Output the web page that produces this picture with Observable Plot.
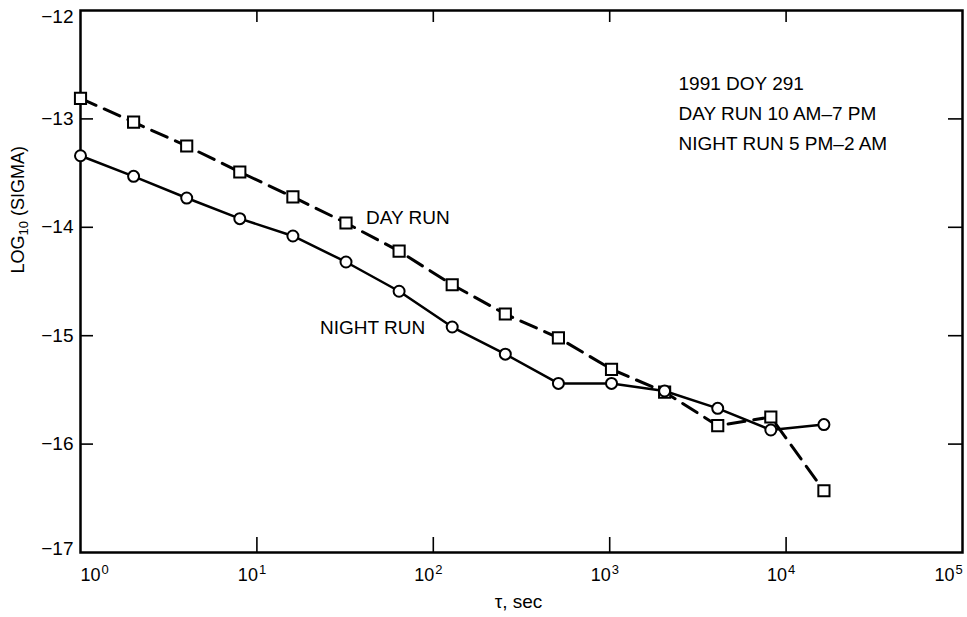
<!DOCTYPE html>
<html><head><meta charset="utf-8">
<script src="https://cdn.jsdelivr.net/npm/d3@7"></script>
<script src="https://cdn.jsdelivr.net/npm/@observablehq/plot@0.6"></script>
<style>body{margin:0;background:#fff;}</style>
</head><body><div id="chart"></div>
<script>
const tau = [1, 2, 4, 8, 16, 32, 64, 128, 256, 512, 1024, 2048, 4096, 8192, 16384];
const dayRun = [-12.81, -13.03, -13.25, -13.49, -13.72, -13.96, -14.22, -14.53, -14.80, -15.02, -15.31, -15.52, -15.83, -15.75, -16.43];
const nightRun = [-13.34, -13.53, -13.73, -13.92, -14.08, -14.32, -14.59, -14.92, -15.17, -15.44, -15.44, -15.51, -15.67, -15.87, -15.82];
const xTicks = [1, 10, 100, 1000, 10000, 100000];
const xExponents = ["0", "1", "2", "3", "4", "5"];
const yTicks = [-17, -16, -15, -14, -13, -12];
const notes = ["1991 DOY 291", "DAY RUN 10 AM\u20137 PM", "NIGHT RUN 5 PM\u20132 AM"];
const seriesNames = ["DAY RUN", "NIGHT RUN"];
const xTitle = "\u03c4, sec";
const yTitle = "LOG10 (SIGMA)";

const day = tau.map((t, i) => ({tau: t, v: dayRun[i]}));
const night = tau.map((t, i) => ({tau: t, v: nightRun[i]}));
const expOf = d => xExponents[xTicks.indexOf(d)];
const minus = d => "\u2212" + Math.abs(d);
const first = xTicks.slice(0, 1), last = xTicks.slice(-1), mid = xTicks.slice(1, -1);
const innerY = yTicks.slice(1, -1);

const font = "Liberation Sans, Arial, Helvetica, sans-serif";
const baseLabel = (data, dx) => Plot.text(data, {x: d => d, frameAnchor: "bottom", text: () => "10", textAnchor: "end", lineAnchor: "bottom", dy: 28, dx, fontSize: 18, fill: "black"});
const expLabel = (data, dx) => Plot.text(data, {x: d => d, frameAnchor: "bottom", text: expOf, textAnchor: "start", lineAnchor: "bottom", dy: 21, dx, fontSize: 13, fill: "black"});
const noteMarks = notes.map((n, i) => Plot.text([n], {frameAnchor: "top-left", dx: 598, dy: 79 + 30 * i, textAnchor: "start", lineAnchor: "bottom", fontSize: 19, fill: "black"}));

const svg = Plot.plot({
  width: 967, height: 617,
  marginLeft: 80, marginRight: 5, marginTop: 10, marginBottom: 65,
  style: {fontFamily: font, background: "white", color: "black"},
  x: {type: "log", domain: [1, 1e5], axis: null},
  y: {domain: [-17, -12], axis: null},
  marks: [
    Plot.frame({stroke: "black", strokeWidth: 2.5}),
    Plot.axisY({anchor: "left", ticks: innerY, tickSize: -13, strokeWidth: 1.6, fill: "none", tickFormat: () => "", label: null}),
    Plot.axisY({anchor: "right", ticks: innerY, tickSize: -15, strokeWidth: 1.6, fill: "none", tickFormat: () => "", label: null}),
    Plot.axisX({anchor: "bottom", ticks: mid, tickSize: -15, strokeWidth: 1.6, fill: "none", tickFormat: () => "", label: null}),
    Plot.axisX({anchor: "top", ticks: mid, tickSize: -11, strokeWidth: 1.6, fill: "none", tickFormat: () => "", label: null}),
    Plot.axisY({anchor: "left", ticks: innerY, tickSize: 0, tickPadding: 7, tickFormat: minus, fontSize: 19, label: null}),
    Plot.axisY({anchor: "left", ticks: [-12], tickSize: 0, tickPadding: 7, tickFormat: minus, fontSize: 19, dy: 6, label: null}),
    Plot.axisY({anchor: "left", ticks: [-17], tickSize: 0, tickPadding: 7, tickFormat: minus, fontSize: 19, dy: -4, label: null}),
    baseLabel(first, 20), expLabel(first, 21),
    baseLabel(mid, 1), expLabel(mid, 2),
    baseLabel(last, -8), expLabel(last, -7),
    Plot.text([xTitle], {frameAnchor: "bottom", dx: -3, dy: 55, lineAnchor: "bottom", fontSize: 19, fill: "black"}),
    Plot.text([yTitle], {frameAnchor: "left", rotate: -90, dx: -62, dy: -8, fontSize: 18, fill: "black"}),
    Plot.line(day, {x: "tau", y: "v", stroke: "black", strokeWidth: 3, strokeDasharray: "17,9"}),
    Plot.line(night, {x: "tau", y: "v", stroke: "black", strokeWidth: 2.5}),
    Plot.dot(day, {x: "tau", y: "v", symbol: "square", r: 6.3, fill: "white", stroke: "black", strokeWidth: 2}),
    Plot.dot(night, {x: "tau", y: "v", symbol: "circle", r: 5.5, fill: "white", stroke: "black", strokeWidth: 2}),
    Plot.text([day[5]], {x: "tau", y: "v", text: () => seriesNames[0], textAnchor: "start", lineAnchor: "bottom", dx: 20, dy: 1, fontSize: 19, fill: "black"}),
    Plot.text([night[7]], {x: "tau", y: "v", text: () => seriesNames[1], textAnchor: "end", lineAnchor: "bottom", dx: -27, dy: 7, fontSize: 19, fill: "black"}),
    ...noteMarks
  ]
});
d3.select(svg).selectAll("text").filter(function() { return this.textContent === yTitle; }).each(function() {
  const t = d3.select(this);
  t.text(null);
  t.append("tspan").text("LOG");
  t.append("tspan").attr("dy", 4).attr("font-size", 13).text("10");
  t.append("tspan").attr("dy", -4).text(" (SIGMA)");
});
document.getElementById("chart").appendChild(svg);
</script>
</body></html>
